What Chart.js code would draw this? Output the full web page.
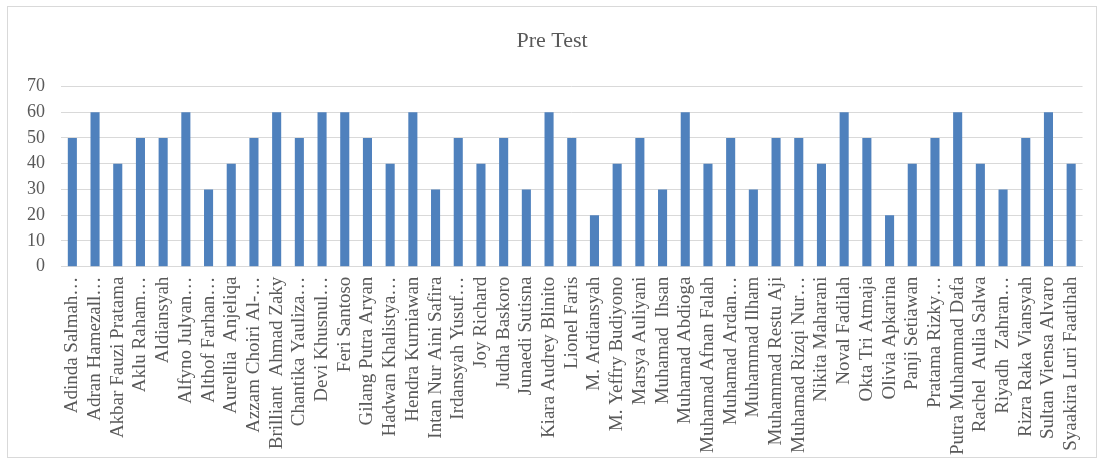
<!DOCTYPE html>
<html>
<head>
<meta charset="utf-8">
<script src="https://cdn.jsdelivr.net/npm/chart.js@4"></script>
<style>
  body { margin: 0; background: #fff; }
  #wrap { position: absolute; left: 7px; top: 6px; width: 1090px; height: 452px; border: 1px solid #d9d9d9; box-sizing: border-box; }
</style>
</head>
<body>
<div id="wrap"><canvas id="preTest"></canvas></div>
<script>
const names = [
  'Adinda Salmah…', 'Adran Hamezall…', 'Akbar Fauzi Pratama', 'Aklu Raham…', 'Aldiansyah',
  'Alfyno Julyan…', 'Althof Farhan…', 'Aurellia  Anjeliqa', 'Azzam Choiri Al-…', 'Brilliant  Ahmad Zaky',
  'Chantika Yauliza…', 'Devi Khusnul…', 'Feri Santoso', 'Gilang Putra Aryan', 'Hadwan Khalistya…',
  'Hendra Kurniawan', 'Intan Nur Aini Safira', 'Irdansyah Yusuf…', 'Joy Richard', 'Judha Baskoro',
  'Junaedi Sutisna', 'Kiara Audrey Blinito', 'Lionel Faris', 'M. Ardiansyah', 'M. Yeffry Budiyono',
  'Marsya Auliyani', 'Muhamad  Ihsan', 'Muhamad Abdioga', 'Muhamad Afnan Falah', 'Muhamad Ardan…',
  'Muhammad Ilham', 'Muhammad Restu Aji', 'Muhamad Rizqi Nur…', 'Nikita Maharani', 'Noval Fadilah',
  'Okta Tri Atmaja', 'Olivia Apkarina', 'Panji Setiawan', 'Pratama Rizky…', 'Putra Muhammad Dafa',
  'Rachel  Aulia Salwa', 'Riyadh  Zahran…', 'Rizra Raka Viansyah', 'Sultan Viensa Alvaro', 'Syaakira Luri Faatihah'
];

const scores = [
  50, 60, 40, 50, 50, 60, 30, 40, 50, 60,
  50, 60, 60, 50, 40, 60, 30, 50, 40, 50,
  30, 60, 50, 20, 40, 50, 30, 60, 40, 50,
  30, 50, 50, 40, 60, 50, 20, 40, 50, 60,
  40, 30, 50, 60, 40
];

const yTicks = [0, 10, 20, 30, 40, 50, 60, 70];

const textColor = '#595959';
const fontFamily = '"Liberation Serif", "Times New Roman", serif';

const ctx = document.getElementById('preTest').getContext('2d');
new Chart(ctx, {
  type: 'bar',
  data: {
    labels: names,
    datasets: [{
      label: 'Pre Test',
      data: scores,
      backgroundColor: '#4f81bd',
      categoryPercentage: 1,
      barPercentage: 0.4
    }]
  },
  options: {
    responsive: true,
    maintainAspectRatio: false,
    animation: false,
    layout: { padding: { left: 3, right: 3, top: 8, bottom: 0 } },
    plugins: {
      legend: { display: false },
      tooltip: { enabled: false },
      title: {
        display: true,
        text: 'Pre Test',
        color: textColor,
        font: { family: fontFamily, size: 22, weight: 'normal' },
        padding: { top: 13, bottom: 32 }
      }
    },
    scales: {
      x: {
        grid: { display: false },
        border: { color: '#d9d9d9' },
        ticks: {
          autoSkip: false,
          maxRotation: 90,
          minRotation: 90,
          color: textColor,
          padding: 2,
          font: { family: fontFamily, size: 19 }
        }
      },
      y: {
        min: 0,
        max: 70,
        afterBuildTicks: (axis) => { axis.ticks = yTicks.map((v) => ({ value: v })); },
        grid: { color: '#d9d9d9', drawTicks: false },
        border: { display: false },
        ticks: {
          color: textColor,
          padding: 16,
          font: { family: fontFamily, size: 18 }
        }
      }
    }
  }
});
</script>
</body>
</html>
